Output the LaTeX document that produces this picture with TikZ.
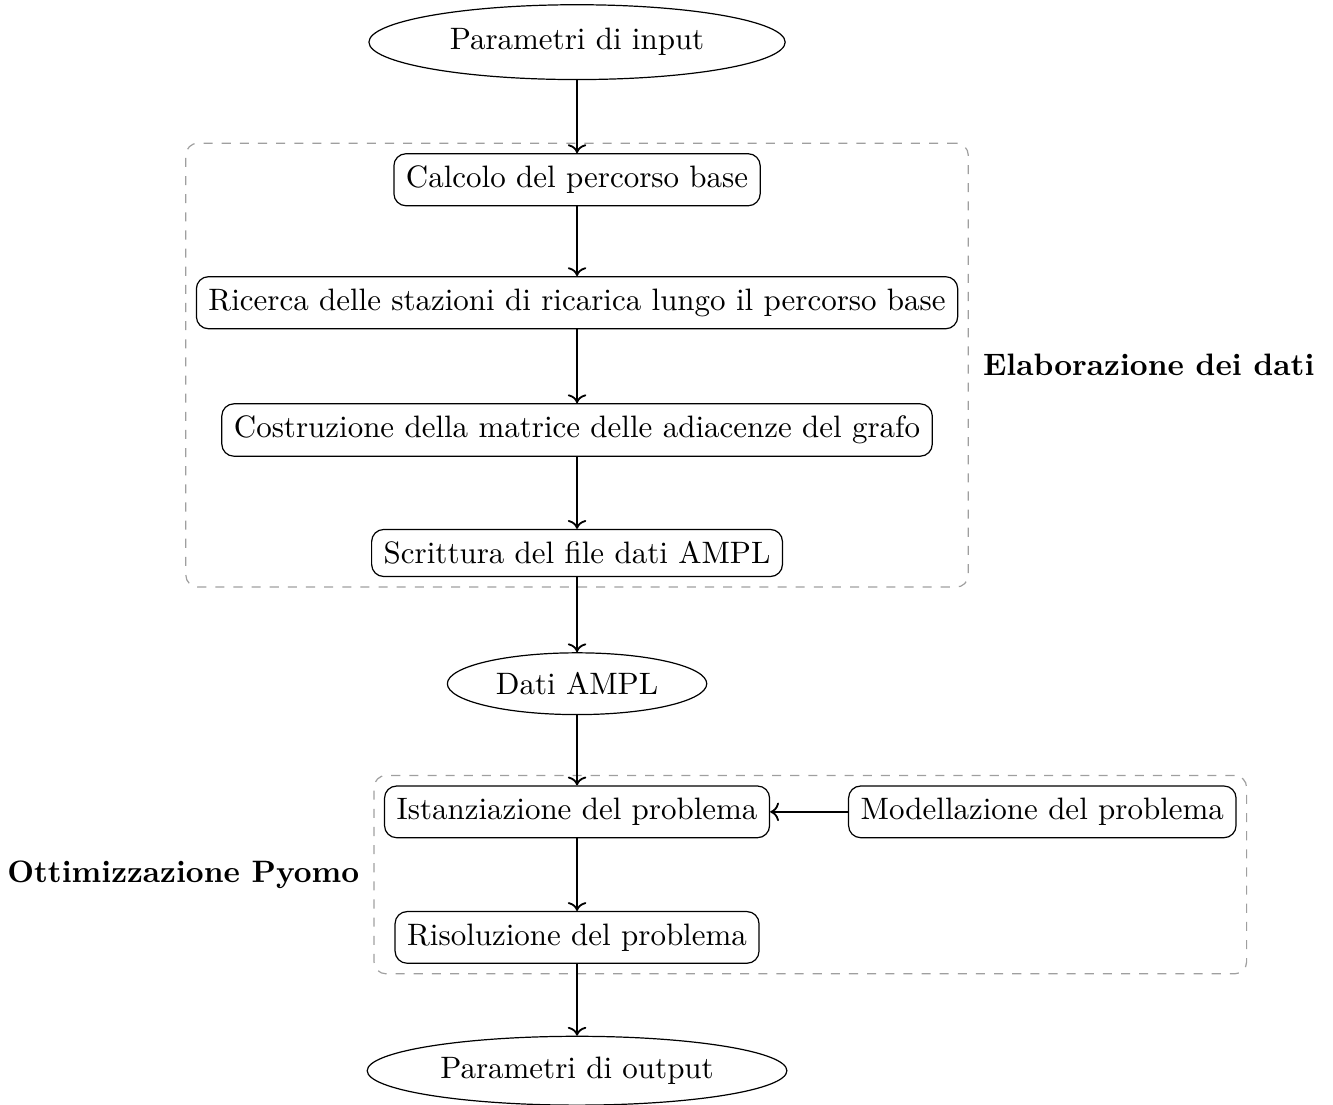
\documentclass[tikz,border=0pt]{standalone}
\usepackage{tikz}
\usetikzlibrary{arrows.meta, positioning, fit, shapes.geometric}
\newcommand{\diafont}{\fontsize{10.25pt}{12.3pt}\selectfont}
\tikzset{
	datum/.style={draw, ellipse, inner sep=3.5pt},
	task/.style={draw, rounded corners=4pt, inner sep=4pt},
	group/.style={draw=gray!75, dashed, rounded corners=4pt, inner sep=3.3pt},
	grplabel/.style={font=\diafont\bfseries},
	arr/.style={->, semithick},
}

\begin{document}
\begin{tikzpicture}[font=\diafont]
		\useasboundingbox (-6.71,0) rectangle (8.79,-12.84);
		\node[datum, minimum width=4.84cm, minimum height=0.87cm] (in) at (0,-0.49){Parametri di input};
		\node[task] (calc) at (0,-2.09){Calcolo del percorso base};
		\node[task] (ric) at (0,-3.52){Ricerca delle stazioni di ricarica lungo il percorso base};
		\node[task] (cos) at (0,-5.00){Costruzione della matrice delle adiacenze del grafo};
		\node[task] (scr) at (0,-6.43){Scrittura del file dati AMPL};
		\node[datum] (dati) at (0,-7.95){Dati AMPL};
		\node[task] (ist) at (0,-9.44){Istanziazione del problema};
		\node[task] (mod) at (5.41,-9.44){Modellazione del problema};
		\node[task] (ris) at (0,-10.90){Risoluzione del problema};
		\node[datum, minimum width=4.88cm] (out) at (0,-12.45){Parametri di output};
		% gruppi
		\node[group, fit=(calc)(ric)(cos)(scr)] (elab) {};
		\node[group, fit=(ist)(mod)(ris)] (ottim) {};
		\node[grplabel, right=0.04cm of elab.east] (elablbl) {Elaborazione dei dati};
		\node[grplabel, left=0.04cm of ottim.west] (ottimlbl) {Ottimizzazione Pyomo};
		% frecce
		\draw[arr] (in) -- (calc);
		\draw[arr] (calc) -- (ric);
		\draw[arr] (ric) -- (cos);
		\draw[arr] (cos) -- (scr);
		\draw[arr] (scr) -- (dati);
		\draw[arr] (dati) -- (ist);
		\draw[arr] (mod) -- (ist);
		\draw[arr] (ist) -- (ris);
		\draw[arr] (ris) -- (out);
	\end{tikzpicture}
\end{document}
